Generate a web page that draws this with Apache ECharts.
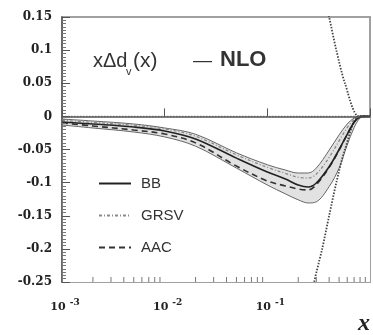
<!DOCTYPE html>
<html>
<head>
<meta charset="utf-8">
<script src="https://cdn.jsdelivr.net/npm/echarts@6/dist/echarts.min.js"></script>
<style>
  html, body { margin: 0; padding: 0; background: #fff; }
  #chart { width: 373px; height: 335px; }
</style>
</head>
<body>
<div id="chart"></div>
<script>
// Sampling points in x (Bjorken x), shared by all curves
const xGrid = [0.001, 0.002, 0.005, 0.01, 0.02, 0.05, 0.1, 0.15, 0.2, 0.25, 0.3, 0.4, 0.5, 0.6, 0.7, 0.8, 0.9, 1.0];

// Uncertainty band of the BB parametrisation
const bandUpper = [-0.004, -0.007, -0.0115, -0.0175, -0.027, -0.055, -0.073, -0.081, -0.0855, -0.0855, -0.078, -0.051, -0.028, -0.0115, -0.0025, 0, 0, 0];
const bandLower = [-0.013, -0.0175, -0.0236, -0.031, -0.045, -0.078, -0.1036, -0.117, -0.126, -0.1307, -0.129, -0.106, -0.078, -0.043, -0.017, -0.0025, 0, 0];

// Central curves of the three NLO sets
const bbValues   = [-0.0085, -0.0115, -0.016, -0.022, -0.034, -0.063, -0.084, -0.0945, -0.1036, -0.1066, -0.1006, -0.076, -0.05, -0.027, -0.009, -0.001, 0, 0];
const grsvValues = [-0.006, -0.009, -0.0135, -0.019, -0.030, -0.058, -0.077, -0.086, -0.092, -0.093, -0.087, -0.062, -0.037, -0.017, -0.005, 0, 0, 0];
const aacValues  = [-0.010, -0.0145, -0.0206, -0.0266, -0.040, -0.075, -0.0975, -0.105, -0.1096, -0.111, -0.103, -0.077, -0.051, -0.027, -0.009, 0, 0, 0];

// Positivity bounds
const boundX     = [0.26, 0.286, 0.342, 0.40, 0.47, 0.57, 0.78, 1.0];
const boundUpper = [0.29, 0.25, 0.20, 0.15, 0.10, 0.05, 0, 0];
const boundLower = [-0.29, -0.25, -0.20, -0.15, -0.10, -0.05, 0, 0];

// Zero reference line
const zeroLineX = [0.001, 1.0];
const zeroLineY = [0, 0];

// Tick labels for the logarithmic x axis
const xTickValues = [0.001, 0.01, 0.1];
const xTickExponents = ['-3', '-2', '-1'];
// Minor tick positions inside each decade
const xMinorTicks = [
  0.002, 0.003, 0.004, 0.005, 0.006, 0.007, 0.008, 0.009,
  0.02, 0.03, 0.04, 0.05, 0.06, 0.07, 0.08, 0.09,
  0.2, 0.3, 0.4, 0.5, 0.6, 0.7, 0.8, 0.9
];

const zip = (xs, ys) => xs.map((x, i) => [x, ys[i]]);

const chart = echarts.init(document.getElementById('chart'), null, { renderer: 'canvas' });

const serifBold = { fontFamily: 'DejaVu Serif', fontWeight: 'bold', color: '#222' };
const SMOOTH = 0.35;

chart.setOption({
  animation: false,
  backgroundColor: '#fff',
  grid: { left: 62, right: 2, top: 17, bottom: 53, show: true, borderColor: '#a0a0a0', borderWidth: 2 },
  legend: {
    data: ['BB', 'GRSV', 'AAC'],
    orient: 'vertical',
    left: 93,
    top: 171,
    itemWidth: 32,
    itemHeight: 16,
    itemGap: 17,
    selectedMode: false,
    itemStyle: { opacity: 0 },
    textStyle: { fontFamily: 'Liberation Sans', fontSize: 15, color: '#333', padding: [0, 0, 0, 5] }
  },
  xAxis: {
    type: 'log',
    logBase: 10,
    min: 0.001,
    max: 1,
    z: 10,
    axisLine: { show: true, lineStyle: { color: '#555', width: 1.5 } },
    axisTick: { show: true, inside: true, length: 8, lineStyle: { color: '#555', width: 1 } },
    splitLine: { show: false },
    axisLabel: {
      margin: 16,
      formatter: function (v) {
        for (let i = 0; i < xTickValues.length; i++) {
          if (Math.abs(v - xTickValues[i]) < 1e-9) {
            return '{b|10}{s|' + xTickExponents[i] + '}';
          }
        }
        return '';
      },
      rich: {
        b: Object.assign({ fontSize: 11, padding: [0, 0, 0, 6] }, serifBold),
        s: Object.assign({ fontSize: 9, padding: [0, 0, 9, 4] }, serifBold)
      }
    }
  },
  yAxis: {
    type: 'value',
    min: -0.25,
    max: 0.15,
    interval: 0.05,
    z: 10,
    // keep the axis on the left edge rather than at log(x) = 0
    axisLine: { show: true, onZero: false, lineStyle: { color: '#555', width: 1.5 } },
    axisTick: { show: true, inside: true, length: 8, lineStyle: { color: '#555', width: 1 } },
    minorTick: { show: true, splitNumber: 10, length: 4, lineStyle: { color: '#777', width: 1 } },
    splitLine: { show: false },
    axisLabel: Object.assign({ margin: 10, fontSize: 12 }, serifBold)
  },
  series: [
    // band: grey fill from the upper edge down to the axis floor ...
    {
      name: 'bandUpper', type: 'line', data: zip(xGrid, bandUpper),
      symbol: 'none', smooth: SMOOTH, silent: true,
      lineStyle: { color: '#666', width: 1 },
      areaStyle: { color: '#e2e2e2', opacity: 1, origin: 'start' }
    },
    // ... then white fill below the lower edge leaves only the band grey
    {
      name: 'bandLower', type: 'line', data: zip(xGrid, bandLower),
      symbol: 'none', smooth: SMOOTH, silent: true,
      lineStyle: { color: '#666', width: 1 },
      areaStyle: { color: '#ffffff', opacity: 1, origin: 'start' }
    },
    {
      name: 'zero', type: 'line', data: zip(zeroLineX, zeroLineY), symbol: 'none', silent: true,
      lineStyle: { color: '#8c8c8c', width: 1.5, type: [1.5, 1.5] }
    },
    {
      name: 'boundUp', type: 'line', data: zip(boundX, boundUpper), symbol: 'none', smooth: 0.3, silent: true,
      lineStyle: { color: '#444', width: 1.8, type: [1.5, 1.5] }
    },
    {
      name: 'boundLow', type: 'line', data: zip(boundX, boundLower), symbol: 'none', smooth: 0.3, silent: true,
      lineStyle: { color: '#444', width: 1.8, type: [1.5, 1.5] }
    },
    {
      name: 'GRSV', type: 'line', data: zip(xGrid, grsvValues), symbol: 'none', smooth: SMOOTH,
      itemStyle: { color: '#8a8a8a' },
      lineStyle: { color: '#8a8a8a', width: 1.3, type: [3, 2, 1, 2] }
    },
    {
      name: 'AAC', type: 'line', data: zip(xGrid, aacValues), symbol: 'none', smooth: SMOOTH,
      itemStyle: { color: '#333' },
      lineStyle: { color: '#333', width: 1.6, type: [6, 4] }
    },
    {
      name: 'BB', type: 'line', data: zip(xGrid, bbValues), symbol: 'none', smooth: SMOOTH,
      itemStyle: { color: '#222' },
      lineStyle: { color: '#222', width: 1.6 }
    },
    {
      name: 'xMinorTicks', type: 'scatter', data: xMinorTicks.map(v => [v, -0.25]),
      symbol: 'rect', symbolSize: [1, 5], symbolOffset: [0, -2.5], clip: false, silent: true, z: 11,
      itemStyle: { color: '#555' }
    }
  ],
  graphic: [
    { type: 'text', left: 93, top: 51, style: { text: 'xΔd', font: '20px "Liberation Sans"', fill: '#333' } },
    { type: 'text', left: 126, top: 66, style: { text: 'v', font: '11px "Liberation Sans"', fill: '#333' } },
    { type: 'text', left: 133, top: 51, style: { text: '(x)', font: '21px "Liberation Sans"', fill: '#333' } },
    { type: 'text', left: 193, top: 51, style: { text: '—', font: '19px "Liberation Sans"', fill: '#333' } },
    { type: 'text', left: 220, top: 49, style: { text: 'NLO', font: 'bold 22px "Liberation Sans"', fill: '#333' } },
    { type: 'text', left: 358, top: 312, style: { text: 'x', font: 'bold italic 24px "Liberation Serif"', fill: '#222' } }
  ]
});
</script>
</body>
</html>
